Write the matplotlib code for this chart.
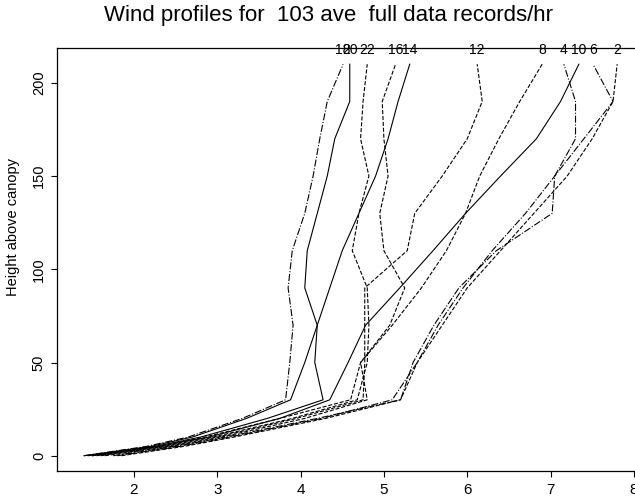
import matplotlib
matplotlib.use("Agg")
import matplotlib.pyplot as plt

plt.rcParams["font.family"] = ["Liberation Sans", "DejaVu Sans"]

# heights above canopy
heights = [0, 5, 10, 20, 30, 50, 70, 90, 110, 130, 150, 170, 190, 210]

# wind speed profiles, one per 2-hourly record
labels = ["18", "20", "22", "16", "14", "12", "8", "4", "10", "6", "2"]
styles = ["dashdot", "solid", "dashed", "dashed", "solid", "dashed",
          "dashed", "dashdot", "solid", "dashdot", "dashed"]
u18 = [1.40, 2.15, 2.65, 3.30, 3.82, 3.87, 3.91, 3.85, 3.90, 4.05, 4.15, 4.23, 4.32, 4.51]
u20 = [1.45, 2.25, 2.80, 3.60, 4.27, 4.17, 4.20, 4.05, 4.08, 4.20, 4.32, 4.41, 4.59, 4.59]
u22 = [1.55, 2.35, 2.95, 3.90, 4.68, 4.80, 4.82, 4.80, 4.62, 4.70, 4.82, 4.72, 4.75, 4.80]
u16 = [1.50, 2.30, 2.85, 3.75, 4.60, 4.72, 5.07, 5.25, 5.00, 4.95, 5.05, 5.00, 4.98, 5.14]
u14 = [1.40, 2.20, 2.70, 3.35, 3.88, 4.05, 4.20, 4.35, 4.50, 4.70, 4.90, 5.05, 5.17, 5.31]
u12 = [1.60, 2.40, 3.00, 3.95, 4.75, 4.77, 4.77, 4.77, 5.28, 5.37, 5.70, 6.00, 6.18, 6.12]
u8 = [1.65, 2.45, 3.05, 4.05, 4.80, 4.72, 5.10, 5.45, 5.75, 5.98, 6.15, 6.38, 6.63, 6.90]
u4 = [1.75, 2.50, 3.10, 4.20, 5.20, 5.35, 5.60, 5.90, 6.35, 7.02, 7.05, 7.30, 7.30, 7.16]
u10 = [1.50, 2.30, 2.90, 3.75, 4.35, 4.57, 4.78, 5.19, 5.59, 5.98, 6.40, 6.83, 7.12, 7.34]
u6 = [1.80, 2.55, 3.15, 4.25, 5.10, 5.40, 5.65, 5.95, 6.30, 6.70, 7.05, 7.40, 7.75, 7.51]
u2 = [1.85, 2.60, 3.20, 4.30, 5.20, 5.40, 5.70, 6.00, 6.40, 6.80, 7.20, 7.50, 7.75, 7.80]
profiles = [u18, u20, u22, u16, u14, u12, u8, u4, u10, u6, u2]

fig = plt.figure(figsize=(6.35, 4.97), dpi=100)
ax = fig.add_axes([57 / 635, 26 / 497, 588 / 635, 423 / 497])

for u, lab, ls in zip(profiles, labels, styles):
    ax.plot(u, heights, color="black", linestyle=ls, linewidth=0.8)
    ax.annotate(lab, (u[-1], heights[-1]), xytext=(0, 5), textcoords="offset points",
                ha="center", va="bottom", fontsize=10)

ax.set_xlim(1.076, 8.134)
ax.set_ylim(-8.2, 218.7)
ax.set_xticks([2, 3, 4, 5, 6, 7, 8])
ax.set_yticks([0, 50, 100, 150, 200])
ax.tick_params(direction="out", length=4, width=0.8, labelsize=11, pad=5)
ax.tick_params(axis="y", pad=4, labelsize=10.5)
for lbl in ax.get_yticklabels():
    lbl.set_rotation(90)
    lbl.set_va("center")
for s in ax.spines.values():
    s.set_linewidth(0.9)

ax.set_ylabel("Height above canopy", fontsize=10.5)
ax.yaxis.set_label_coords(-0.063, 0.577)
fig.text(328 / 635, 1 - 15 / 497, "Wind profiles for  103 ave  full data records/hr",
         ha="center", va="center", fontsize=16)

fig.savefig("out.png", dpi=100)
